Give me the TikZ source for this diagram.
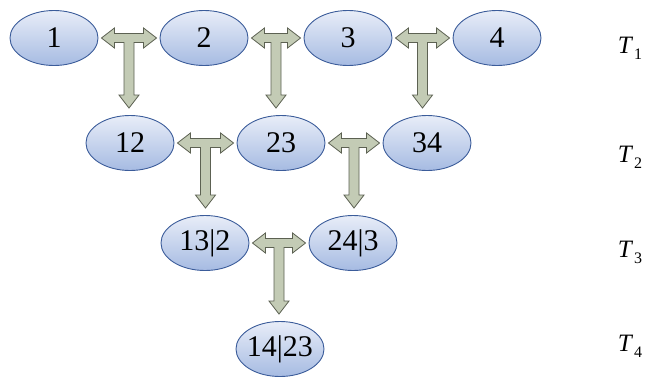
\documentclass[tikz,border=0pt]{standalone}
\usepackage{fontspec}
\setmainfont{Liberation Serif}
\newfontfamily\tnr{Liberation Serif}
\usetikzlibrary{calc,shapes.geometric}
\definecolor{ellborder}{HTML}{3B5C9A}
\definecolor{elltop}{HTML}{E8EDF8}
\definecolor{ellbot}{HTML}{A6BBE2}
\definecolor{arrfill}{HTML}{C3CBB5}
\definecolor{arrdraw}{HTML}{5C6152}
\tikzset{
  ell/.style={ellipse, draw=ellborder, line width=0.9pt, top color=elltop, bottom color=ellbot,
    minimum width=88pt, minimum height=55pt, inner ysep=0pt, inner xsep=-8pt,
    font=\tnr\fontsize{30}{30}\selectfont},
  tarrow/.style={fill=arrfill, draw=arrdraw, line width=0.8pt, line join=miter},
  tlabel/.style={font=\tnr\fontsize{25}{25}\selectfont, inner sep=0pt}
}
\newcommand\tarr[3]{%
  \path let \p1=(#1.east), \p2=(#2.west), \p3=(#3.north), \p4=($(\p1)!0.5!(\p2)$) in
  [tarrow] ({\x1+3pt},\y1) -- ({\x1+16pt},{\y1+10pt}) -- ({\x1+16pt},{\y1+4.5pt})
  -- ({\x2-16pt},{\y1+4.5pt}) -- ({\x2-16pt},{\y1+10pt}) -- ({\x2-3pt},\y1)
  -- ({\x2-16pt},{\y1-10pt}) -- ({\x2-16pt},{\y1-4.5pt})
  -- ({\x4+5pt},{\y1-4.5pt}) -- ({\x4+5pt},{\y3+20pt}) -- ({\x4+10pt},{\y3+20pt})
  -- (\x4,{\y3+7pt}) -- ({\x4-10pt},{\y3+20pt}) -- ({\x4-5pt},{\y3+20pt})
  -- ({\x4-5pt},{\y1-4.5pt}) -- ({\x1+16pt},{\y1-4.5pt}) -- ({\x1+16pt},{\y1-10pt}) -- cycle;}
\newcommand\tlab[1]{\textit{T}\kern1pt\raisebox{-6pt}{\fontsize{16}{16}\selectfont #1}}
\begin{document}
\begin{tikzpicture}[x=1pt,y=-1pt]
\useasboundingbox (0,0) rectangle (656,386);
\node[ell] (n1) at (54,38) {1};
\node[ell] (n2) at (204,38) {2};
\node[ell] (n3) at (348,38) {3};
\node[ell] (n4) at (497,38) {4};
\node[ell] (n12) at (130,143) {12};
\node[ell] (n23) at (281,143) {23};
\node[ell] (n34) at (427,143) {34};
\node[ell] (n132) at (205,243) {13|2};
\node[ell] (n243) at (353,243) {24|3};
\node[ell] (n1423) at (280,349) {14|23};
\tarr{n1}{n2}{n12}
\tarr{n2}{n3}{n23}
\tarr{n3}{n4}{n34}
\tarr{n12}{n23}{n132}
\tarr{n23}{n34}{n243}
\tarr{n132}{n243}{n1423}
\node[tlabel] (t1) at (630,48) {\tlab{1}};
\node[tlabel] (t2) at (630,157) {\tlab{2}};
\node[tlabel] (t3) at (630,252) {\tlab{3}};
\node[tlabel] (t4) at (630,346) {\tlab{4}};
\end{tikzpicture}
\end{document}
